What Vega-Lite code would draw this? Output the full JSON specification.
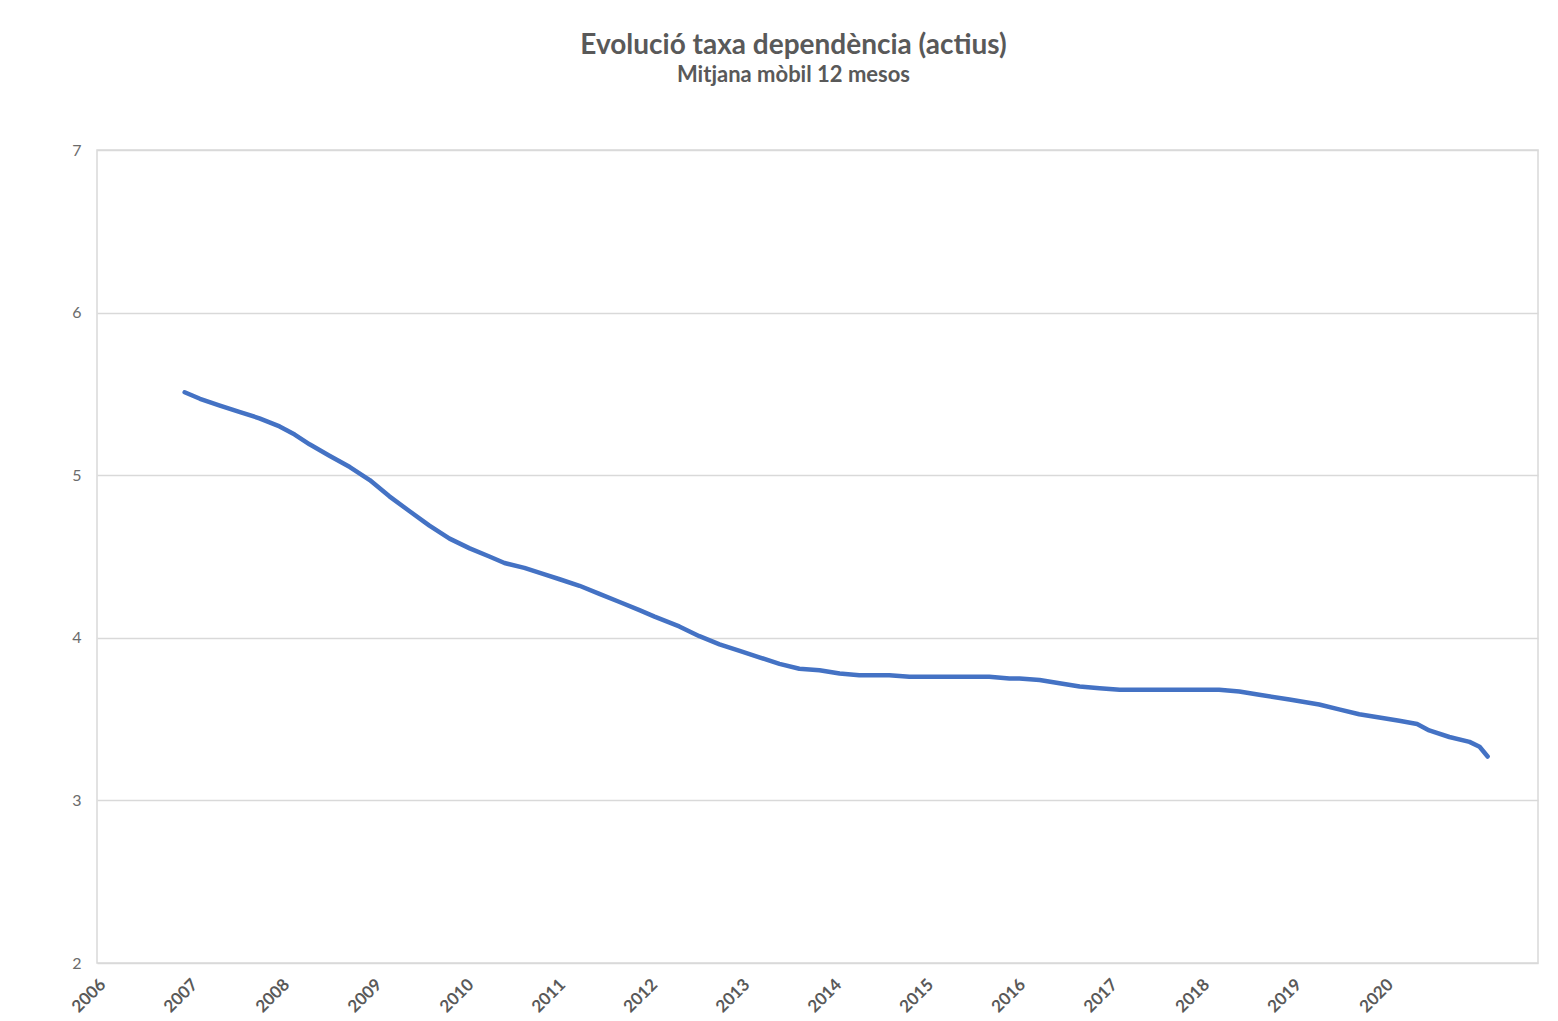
{
  "$schema": "https://vega.github.io/schema/vega-lite/v6.json",
  "autosize": "none",
  "width": 1441,
  "height": 813,
  "padding": {"left": 97, "top": 150, "right": 20, "bottom": 58},
  "background": "white",
  "title": {
    "text": "Evolució taxa dependència (actius)",
    "subtitle": "Mitjana mòbil 12 mesos",
    "font": "Lato",
    "fontSize": 28,
    "fontWeight": "bold",
    "color": "#595959",
    "subtitleFont": "Lato",
    "subtitleFontSize": 22,
    "subtitleFontWeight": "bold",
    "subtitleColor": "#595959",
    "subtitlePadding": 5,
    "anchor": "middle",
    "offset": 56,
    "dx": -24
  },
  "config": {
    "view": {"stroke": "#d9d9d9", "strokeWidth": 1.5}
  },
  "data": {
    "values": [
      {"date": "2006-12-15", "value": 5.51},
      {"date": "2007-02-14", "value": 5.47},
      {"date": "2007-05-01", "value": 5.43},
      {"date": "2007-07-20", "value": 5.39},
      {"date": "2007-10-08", "value": 5.35},
      {"date": "2007-12-27", "value": 5.30},
      {"date": "2008-02-25", "value": 5.25},
      {"date": "2008-04-24", "value": 5.19},
      {"date": "2008-07-12", "value": 5.12},
      {"date": "2008-10-01", "value": 5.05},
      {"date": "2008-12-19", "value": 4.97},
      {"date": "2009-03-07", "value": 4.87},
      {"date": "2009-05-25", "value": 4.78},
      {"date": "2009-08-13", "value": 4.69},
      {"date": "2009-11-01", "value": 4.61},
      {"date": "2010-01-20", "value": 4.55},
      {"date": "2010-04-08", "value": 4.50},
      {"date": "2010-06-07", "value": 4.46},
      {"date": "2010-08-25", "value": 4.43},
      {"date": "2010-11-13", "value": 4.39},
      {"date": "2011-01-12", "value": 4.36},
      {"date": "2011-04-01", "value": 4.32},
      {"date": "2011-06-19", "value": 4.27},
      {"date": "2011-09-07", "value": 4.22},
      {"date": "2011-11-25", "value": 4.17},
      {"date": "2012-01-24", "value": 4.13},
      {"date": "2012-05-01", "value": 4.07},
      {"date": "2012-07-20", "value": 4.01},
      {"date": "2012-10-08", "value": 3.96},
      {"date": "2012-12-27", "value": 3.92},
      {"date": "2013-03-15", "value": 3.88},
      {"date": "2013-06-03", "value": 3.84},
      {"date": "2013-08-21", "value": 3.81},
      {"date": "2013-11-09", "value": 3.80},
      {"date": "2014-01-28", "value": 3.78},
      {"date": "2014-04-16", "value": 3.77},
      {"date": "2014-08-13", "value": 3.77},
      {"date": "2014-11-01", "value": 3.76},
      {"date": "2015-02-28", "value": 3.76},
      {"date": "2015-05-17", "value": 3.76},
      {"date": "2015-09-14", "value": 3.76},
      {"date": "2015-12-03", "value": 3.75},
      {"date": "2016-01-12", "value": 3.75},
      {"date": "2016-04-01", "value": 3.74},
      {"date": "2016-06-19", "value": 3.72},
      {"date": "2016-09-07", "value": 3.70},
      {"date": "2016-11-25", "value": 3.69},
      {"date": "2017-02-13", "value": 3.68},
      {"date": "2017-06-11", "value": 3.68},
      {"date": "2017-10-08", "value": 3.68},
      {"date": "2018-03-15", "value": 3.68},
      {"date": "2018-06-03", "value": 3.67},
      {"date": "2018-08-21", "value": 3.65},
      {"date": "2018-12-19", "value": 3.62},
      {"date": "2019-04-16", "value": 3.59},
      {"date": "2019-07-04", "value": 3.56},
      {"date": "2019-09-22", "value": 3.53},
      {"date": "2019-12-11", "value": 3.51},
      {"date": "2020-02-28", "value": 3.49},
      {"date": "2020-05-09", "value": 3.47},
      {"date": "2020-06-26", "value": 3.43},
      {"date": "2020-09-14", "value": 3.39},
      {"date": "2020-12-03", "value": 3.36},
      {"date": "2021-01-12", "value": 3.33},
      {"date": "2021-02-13", "value": 3.27}
    ]
  },
  "mark": {"type": "line", "color": "#4472C4", "strokeWidth": 4.5, "strokeCap": "round", "strokeJoin": "round"},
  "encoding": {
    "x": {
      "field": "date",
      "type": "temporal",
      "scale": {
        "type": "utc",
        "domain": [
          {"year": 2006, "month": 1, "date": 1, "utc": true},
          {"year": 2021, "month": 9, "date": 1, "utc": true}
        ]
      },
      "axis": {
        "title": null,
        "values": [
          {"year": 2006, "month": 1, "date": 1, "utc": true},
          {"year": 2007, "month": 1, "date": 1, "utc": true},
          {"year": 2008, "month": 1, "date": 1, "utc": true},
          {"year": 2009, "month": 1, "date": 1, "utc": true},
          {"year": 2010, "month": 1, "date": 1, "utc": true},
          {"year": 2011, "month": 1, "date": 1, "utc": true},
          {"year": 2012, "month": 1, "date": 1, "utc": true},
          {"year": 2013, "month": 1, "date": 1, "utc": true},
          {"year": 2014, "month": 1, "date": 1, "utc": true},
          {"year": 2015, "month": 1, "date": 1, "utc": true},
          {"year": 2016, "month": 1, "date": 1, "utc": true},
          {"year": 2017, "month": 1, "date": 1, "utc": true},
          {"year": 2018, "month": 1, "date": 1, "utc": true},
          {"year": 2019, "month": 1, "date": 1, "utc": true},
          {"year": 2020, "month": 1, "date": 1, "utc": true}
        ],
        "format": "%Y",
        "formatType": "utc",
        "labelAngle": -45,
        "labelFont": "Lato",
        "labelFontSize": 17,
        "labelFontWeight": "bold",
        "labelColor": "#595959",
        "labelPadding": 13,
        "labelOverlap": false,
        "labelFlush": false,
        "ticks": false,
        "domain": false,
        "grid": false
      }
    },
    "y": {
      "field": "value",
      "type": "quantitative",
      "scale": {"domain": [2, 7], "nice": false, "zero": false},
      "axis": {
        "title": null,
        "values": [2, 3, 4, 5, 6, 7],
        "labelFont": "Lato",
        "labelFontSize": 16,
        "labelColor": "#6b6b6b",
        "labelPadding": 16,
        "ticks": false,
        "domain": false,
        "grid": true,
        "gridColor": "#d9d9d9",
        "gridWidth": 1.5
      }
    }
  }
}
